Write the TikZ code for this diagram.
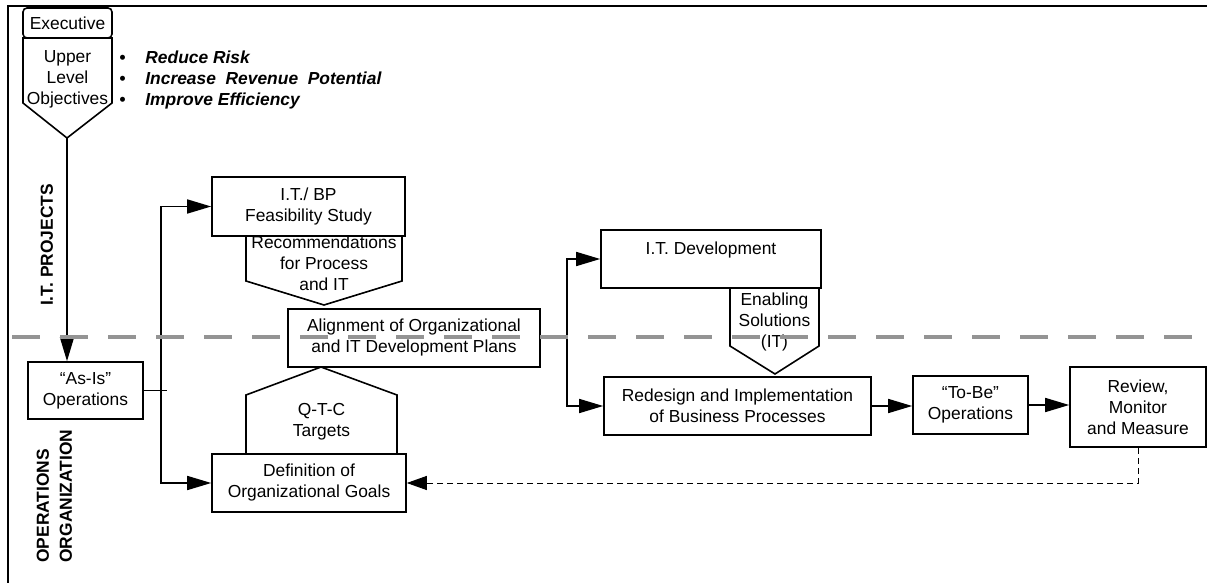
\documentclass[tikz,border=0pt]{standalone}
\usepackage{fontspec}
\setmainfont{Liberation Sans}
\usetikzlibrary{arrows.meta}
\newcommand\diagfont{\fontsize{8.7}{10.5}\selectfont}
\tikzset{
	box/.style={draw, line width=0.8pt, align=center, inner sep=1pt, font=\diagfont},
	tag/.style={align=center, inner sep=0pt, font=\diagfont},
	shapeline/.style={line width=0.8pt, fill=white},
	conn/.style={line width=0.8pt},
	arrowhd/.style={-{Triangle[length=12pt,width=7pt]}},
	twohd/.style={{Triangle[length=12pt,width=7pt]}-{Triangle[length=12pt,width=7pt]}},
	feedback/.style={line width=0.5pt, dash pattern=on 3pt off 2pt, -{Triangle[length=10pt,width=7pt]}},
	lane/.style={line width=2pt, color=black!42, dash pattern=on 14pt off 10pt}
}

\begin{document}
\begin{tikzpicture}[x=0.5pt, y=-0.5pt]
		%%%%% START %%%%%
		\useasboundingbox (0,0) rectangle (1207,583);
		
		\draw[line width=1.1pt] (8,583) -- (8,6) -- (1207,6);
		
		\node[box, rounded corners=2pt, minimum width=44.5pt, minimum height=15pt] (exec) at (67.5,23) {Executive};
		\draw[shapeline] (23,38) -- (112,38) -- (112,103) -- (67,138) -- (23,103) -- cycle;
		\node[tag] (ulo) at (67.5,79) {Upper\\Level\\Objectives};
		\coordinate (uloTip) at (67,138);
		
		\node[tag, anchor=west, align=left, font=\diagfont\bfseries\itshape] (aims) at (119,80)
			{\makebox[13pt][l]{\textbullet}Reduce Risk\\
			 \makebox[13pt][l]{\textbullet}Increase~ Revenue~ Potential\\
			 \makebox[13pt][l]{\textbullet}Improve Efficiency};
		
		\node[tag, rotate=90, font=\diagfont\bfseries] (itproj) at (47,245) {I.T. PROJECTS};
		\node[tag, rotate=90, anchor=west, align=left, font=\fontsize{8.7}{11.5}\selectfont\bfseries] (opsorg) at (54.5,563) {OPERATIONS\\ORGANIZATION};
		
		\node[box, minimum width=57.5pt, minimum height=28.5pt] (asis) at (85.5,390.5) {``As-Is''\\Operations};
		\draw[conn, arrowhd] (uloTip) -- (uloTip |- asis.north);
		
		\node[box, minimum width=96.5pt, minimum height=29.5pt] (feas) at (308.5,206.5) {I.T./ BP\\Feasibility Study};
		\draw[shapeline] (246,236) -- (402,236) -- (402,281) -- (324,305) -- (246,281) -- cycle;
		\node[tag] (recs) at (324,263.5) {Recommendations\\for Process\\and IT};
		
		\node[box, minimum width=126pt, minimum height=29pt] (align) at (414,338) {Alignment of Organizational\\and IT Development Plans};
		
		\node[box, minimum width=97pt, minimum height=29pt] (defn) at (309,483) {Definition of\\Organizational Goals};
		\draw[shapeline] (246,454) -- (246,395) -- (321,367) -- (397,395) -- (397,454) -- cycle;
		\node[tag] (qtc) at (321.5,422) {Q-T-C\\Targets};
		
		\coordinate (split1) at (161,390);
		\draw[conn] (asis.east) -- ++(23,0);
		\draw[conn, twohd] (feas.west) -| (split1) |- (defn.west);
		
		\node[box, minimum width=110pt, minimum height=29pt] (itdev) at (711,259) {I.T. Development\\\mbox{}};
		\draw[shapeline] (730,288) -- (819,288) -- (819,346) -- (775,374) -- (730,346) -- cycle;
		\node[tag] (enab) at (774.5,322) {Enabling\\Solutions\\(IT)};
		
		\node[box, minimum width=133.5pt, minimum height=29pt] (redesign) at (737.5,406) {Redesign and Implementation\\of Business Processes};
		\node[box, minimum width=57.5pt, minimum height=29pt] (tobe) at (970.5,405) {``To-Be''\\Operations};
		\node[box, minimum width=68pt, minimum height=40pt] (review) at (1138,407) {Review,\\Monitor\\and Measure};
		
		\coordinate (split2) at (567,338);
		\draw[conn] (align.east) -- (split2);
		\draw[conn, twohd] (itdev.west) -| (split2) |- (redesign.west);
		\draw[conn, arrowhd] (redesign.east) -- (redesign.east -| tobe.west);
		\draw[conn, arrowhd] (tobe.east) -- (tobe.east -| review.west);
		\draw[feedback] (review.south) |- (defn.east);
		
		\draw[lane] (12,337) -- (1207,337);
		
		%%%%% END %%%%%
	\end{tikzpicture}
\end{document}
